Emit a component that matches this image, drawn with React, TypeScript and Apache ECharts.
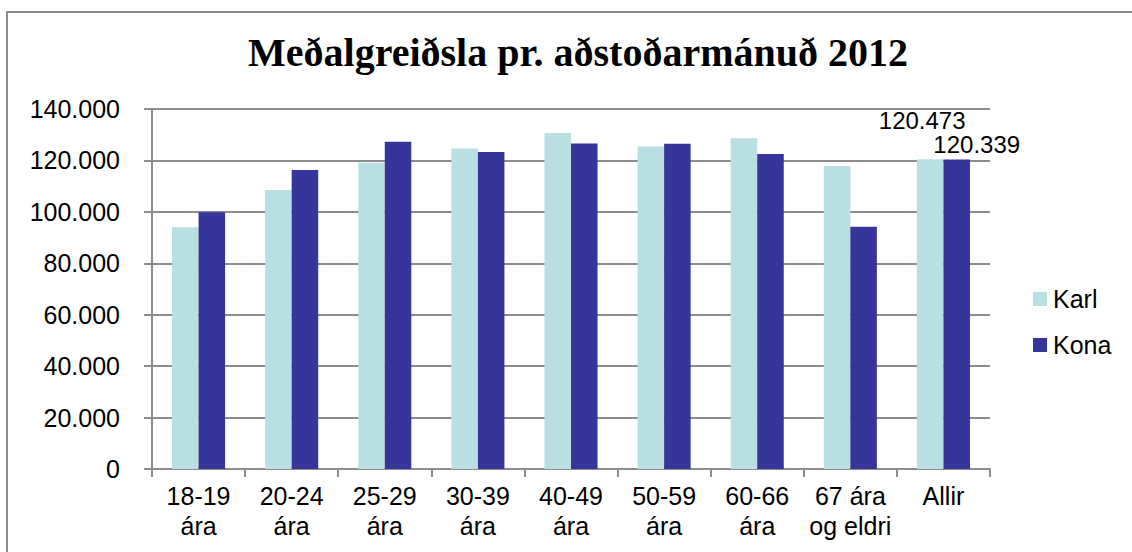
import React, { useEffect, useRef } from "react";
import * as echarts from "echarts";

const categories = ["18-19\nára", "20-24\nára", "25-29\nára", "30-39\nára", "40-49\nára", "50-59\nára", "60-66\nára", "67 ára\nog eldri", "Allir"];
const karlValues = [94000, 108500, 119100, 124600, 130700, 125400, 128600, 117800, 120473];
const konaValues = [99800, 116300, 127300, 123300, 126600, 126500, 122500, 94200, 120339];
const seriesNames = ["Karl", "Kona"];
const titleText = "Meðalgreiðsla pr. aðstoðarmánuð 2012";

const fmt = (v: number) => String(Math.round(v)).replace(/\B(?=(\d{3})+(?!\d))/g, ".");

export default function App() {
  const ref = useRef<HTMLDivElement>(null);
  useEffect(() => {
    document.body.style.margin = "0";
    const chart = echarts.init(ref.current!, null, { renderer: "svg" });
    const font = "'Liberation Sans', Arial, sans-serif";
    const grey = "#8c8c8c";
    const mk = (vals: number[], offset: number[]) =>
      vals.map((v, i) =>
        i === vals.length - 1
          ? {
              value: v,
              label: {
                show: true,
                position: "top",
                offset,
                formatter: (p: any) => fmt(p.value),
                color: "#000",
                fontSize: 24,
                lineHeight: 19,
                fontFamily: font,
              },
            }
          : v
      );
    chart.setOption({
      animation: false,
      backgroundColor: "#fff",
      title: {
        text: titleText,
        left: 573,
        top: 27,
        textAlign: "center",
        textStyle: {
          fontFamily: "'Liberation Serif', 'DejaVu Serif', serif",
          fontWeight: "bold",
          fontSize: 40,
          color: "#000",
        },
      },
      graphic: [
        {
          type: "rect",
          shape: { x: 7, y: 12, width: 1200, height: 700 },
          style: { fill: "none", stroke: grey, lineWidth: 2 },
          silent: true,
        },
      ],
      legend: {
        orient: "vertical",
        left: 1033,
        top: 285,
        padding: 0,
        itemWidth: 14,
        itemHeight: 14,
        itemGap: 18,
        icon: "rect",
        textStyle: { fontFamily: font, fontSize: 25, color: "#000", lineHeight: 28, padding: [0, 0, 0, 1] },
        data: seriesNames,
      },
      grid: { left: 152, right: 142, top: 109, bottom: 83 },
      xAxis: {
        type: "category",
        data: categories,
        axisLine: { lineStyle: { color: grey, width: 2 } },
        axisTick: { show: true, length: 8, lineStyle: { color: grey, width: 2 } },
        axisLabel: { fontFamily: font, fontSize: 25, color: "#000", lineHeight: 30, margin: 12, interval: 0 },
      },
      yAxis: {
        type: "value",
        min: 0,
        max: 140000,
        interval: 20000,
        axisLine: { show: true, lineStyle: { color: grey, width: 2 } },
        axisTick: { show: true, length: 8, lineStyle: { color: grey, width: 2 } },
        splitLine: { lineStyle: { color: grey, width: 2 } },
        axisLabel: { fontFamily: font, fontSize: 25, color: "#000", margin: 32, formatter: (v: number) => fmt(v) },
      },
      series: [
        {
          name: seriesNames[0],
          type: "bar",
          data: mk(karlValues, [-8, -24]),
          itemStyle: { color: "#b9dfe3" },
          barGap: "0%",
          barCategoryGap: "43%",
        },
        {
          name: seriesNames[1],
          type: "bar",
          data: mk(konaValues, [20, -1]),
          itemStyle: { color: "#35359a" },
          barGap: "0%",
          barCategoryGap: "43%",
        },
      ],
    });
    return () => chart.dispose();
  }, []);
  return <div ref={ref} style={{ width: 1132, height: 552 }} />;
}
